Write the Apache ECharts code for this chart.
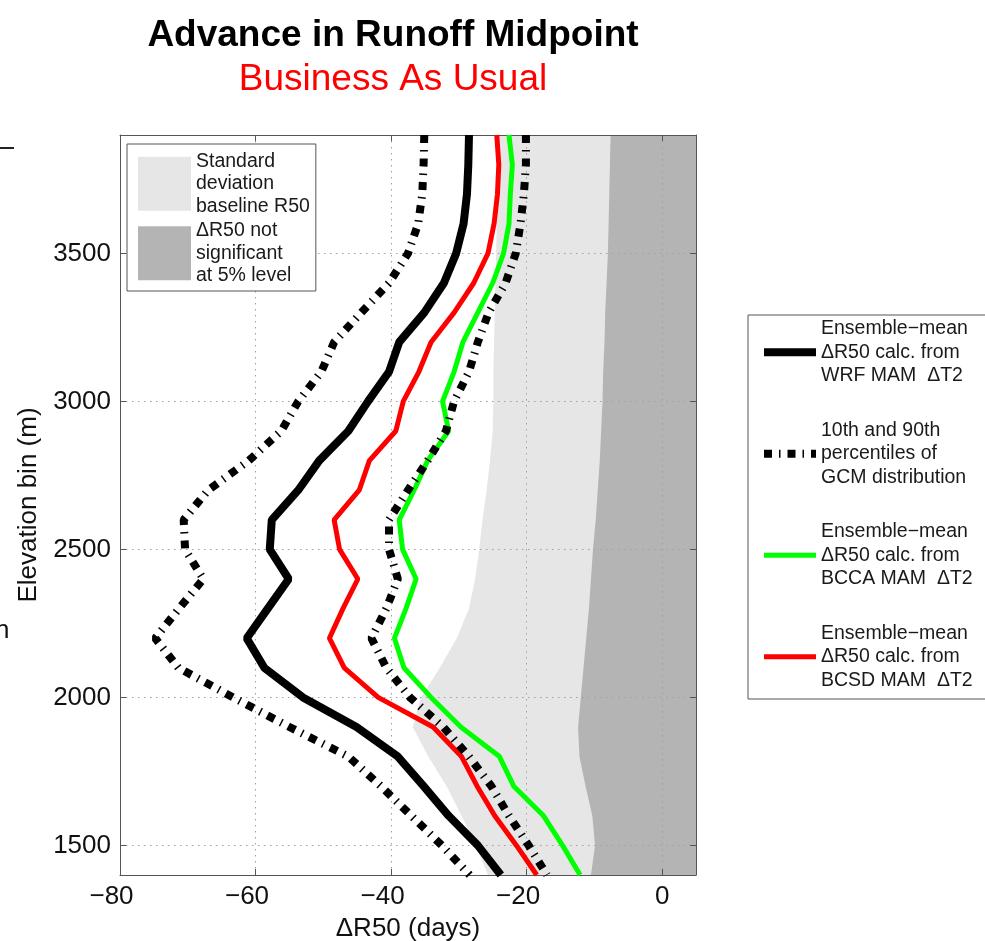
<!DOCTYPE html>
<html>
<head>
<meta charset="utf-8">
<script src="https://cdn.jsdelivr.net/npm/echarts@6/dist/echarts.min.js"></script>
<style>
  html, body { margin: 0; padding: 0; background: #fff; }
  #chart { width: 985px; height: 941px; }
</style>
</head>
<body>
<div id="chart"></div>
<script>
// Elevation bins (m), top to bottom
const elevation = [3900, 3800, 3700, 3600, 3500, 3400, 3300, 3200, 3100, 3000, 2900, 2800, 2700,
                   2600, 2500, 2400, 2300, 2200, 2100, 2000, 1900, 1800, 1700, 1600, 1500, 1400];

// Ensemble-mean ΔR50 (days) per elevation bin
const wrfMean  = [-28.5, -28.6, -28.8, -29.3, -30.4, -32.2, -35.1, -38.8, -40.3, -43.4, -46.3, -50.6, -53.7,
                  -57.6, -57.9, -55.1, -58.2, -61.3, -58.7, -53.0, -45.1, -39.0, -35.2, -31.5, -27.2, -23.8];
const bccaMean = [-22.6, -22.1, -22.4, -22.6, -23.4, -25.0, -27.2, -29.4, -30.7, -32.4, -31.5, -34.6, -36.6,
                  -38.8, -38.3, -36.3, -37.8, -39.5, -38.1, -34.1, -29.7, -24.0, -21.9, -17.5, -14.7, -12.1];
const bcsdMean = [-24.4, -24.1, -24.3, -24.8, -25.7, -27.8, -30.7, -34.1, -35.9, -38.2, -39.3, -43.2, -44.7,
                  -48.4, -47.6, -44.9, -47.1, -49.1, -46.9, -41.9, -33.8, -29.6, -27.3, -24.7, -21.5, -18.5];

// 10th and 90th percentiles of the GCM distribution
const gcmP10 = [-35.1, -35.2, -35.4, -36.0, -37.5, -40.3, -44.4, -48.4, -50.3, -53.7, -56.2, -61.0, -67.0,
                -70.6, -70.4, -67.7, -71.3, -74.8, -71.4, -63.3, -55.0, -46.3, -41.5, -37.0, -32.5, -28.4];
const gcmP90 = [-20.1, -20.1, -20.4, -20.9, -21.6, -23.1, -25.6, -27.2, -28.5, -30.7, -31.9, -34.6, -37.5,
                -40.3, -40.3, -39.0, -40.7, -42.9, -40.7, -37.2, -32.3, -28.5, -25.2, -22.6, -19.7, -17.0];

// Left edges of the shaded bands (days)
const sdEdge    = [-24.1, -24.2, -24.3, -24.4, -24.5, -24.6, -24.7, -24.8, -24.9, -24.9, -25.0, -25.4, -25.9,
                   -26.5, -27.0, -27.6, -28.5, -30.3, -32.8, -35.6, -36.8, -34.5, -31.8, -29.6, -27.5, -25.7];
const notSigEdge = [-7.6, -7.7, -7.8, -7.9, -8.0, -8.2, -8.4, -8.5, -8.7, -8.8, -9.0, -9.2, -9.5,
                    -9.8, -10.2, -10.5, -10.8, -11.2, -11.6, -12.0, -12.4, -12.2, -11.3, -10.3, -9.9, -10.5];

// Axis ticks
const xTicks = [-80, -60, -40, -20, 0];
const yTicks = [1500, 2000, 2500, 3000, 3500];

const X_MIN = -80, X_MAX = 5, Y_MIN = 1400, Y_MAX = 3900;
const FONT = '"Liberation Sans", Arial, Helvetica, sans-serif';

const NAME_SD    = 'Standard\ndeviation\nbaseline R50';
const NAME_NS    = '\u0394R50 not\nsignificant\nat 5% level';
const NAME_WRF   = 'Ensemble\u2212mean\n\u0394R50 calc. from\nWRF MAM  \u0394T2';
const NAME_PCT   = '10th and 90th\npercentiles of\nGCM distribution';
const NAME_BCCA  = 'Ensemble\u2212mean\n\u0394R50 calc. from\nBCCA MAM  \u0394T2';
const NAME_BCSD  = 'Ensemble\u2212mean\n\u0394R50 calc. from\nBCSD MAM  \u0394T2';

const LIGHT = '#e6e6e6', DARK = '#b4b4b4';
const DASH_DOT = [8, 7, 1.5, 7];

function pairs(xs) { return elevation.map((e, i) => [xs[i], e]); }

// Filled band from a boundary curve to the right edge of the plot
function bandSeries(name, edge, color) {
  return {
    type: 'custom',
    name: name,
    z: -1,
    silent: true,
    itemStyle: { color: color },
    encode: { x: 0, y: 1 },
    data: pairs(edge),
    renderItem: function (params, api) {
      if (params.dataIndex !== 0) return null;
      const pts = edge.map((x, i) => api.coord([x, elevation[i]]));
      pts.push(api.coord([X_MAX, elevation[elevation.length - 1]]));
      pts.push(api.coord([X_MAX, elevation[0]]));
      return { type: 'polygon', shape: { points: pts }, style: { fill: color } };
    }
  };
}

function lineSeries(name, values, color, width, type) {
  return {
    type: 'line',
    name: name,
    data: pairs(values),
    symbol: 'none',
    silent: true,
    z: 3,
    itemStyle: { color: color },
    lineStyle: { color: color, width: width, type: type || 'solid', cap: 'butt' }
  };
}

// Legend entry drawn as a bare line sample (no marker)
function lineKey(name, color, width, type) {
  return {
    name: name,
    itemStyle: { color: 'rgba(0,0,0,0)', borderWidth: 0, opacity: 0 },
    lineStyle: { color: color, width: width, type: type, cap: 'butt' }
  };
}

// Negative tick labels carry a true minus sign and sit slightly left of the tick
const xTickLabel = v => v < 0 ? '{neg|\u2212' + (-v) + '}' : String(v);
const axisGrey = '#555';
const gridLine = { show: true, lineStyle: { color: '#a0a0a0', width: 1, type: [1.5, 4.5] } };

const chart = echarts.init(document.getElementById('chart'), null, { renderer: 'canvas' });

chart.setOption({
  animation: false,
  backgroundColor: '#fff',
  textStyle: { fontFamily: FONT },
  title: {
    text: 'Advance in Runoff Midpoint',
    subtext: 'Business As Usual',
    left: 388,
    top: 12,
    textAlign: 'center',
    itemGap: 7,
    textStyle: { fontFamily: FONT, fontSize: 37, fontWeight: 'bold', color: '#000' },
    subtextStyle: { fontFamily: FONT, fontSize: 37, color: '#ff0000' }
  },
  grid: { left: 120, right: 289, top: 135, bottom: 66, containLabel: false, outerBoundsMode: 'none' },
  xAxis: [{
    type: 'value', min: X_MIN, max: X_MAX, interval: 20, position: 'bottom',
    axisLine: { show: true, onZero: false, lineStyle: { color: axisGrey, width: 1 } },
    axisTick: { show: true, inside: true, length: 6, customValues: xTicks, lineStyle: { color: axisGrey } },
    axisLabel: {
      customValues: xTicks, formatter: xTickLabel, fontSize: 26, color: '#111', margin: 9, fontFamily: FONT,
      rich: { neg: { fontSize: 26, color: '#111', fontFamily: FONT, padding: [0, 17, 0, 0] } }
    },
    splitLine: gridLine,
    name: '\u0394R50 (days)', nameLocation: 'middle', nameGap: 41,
    nameTextStyle: { fontSize: 26, color: '#111', fontFamily: FONT }
  }, {
    type: 'value', min: X_MIN, max: X_MAX, interval: 20, position: 'top',
    axisLine: { show: true, onZero: false, lineStyle: { color: axisGrey, width: 1 } },
    axisTick: { show: true, inside: true, length: 6, customValues: xTicks, lineStyle: { color: axisGrey } },
    axisLabel: { show: false },
    splitLine: { show: false }
  }],
  yAxis: [{
    type: 'value', min: Y_MIN, max: Y_MAX, position: 'left',
    axisLine: { show: true, onZero: false, lineStyle: { color: axisGrey, width: 1 } },
    axisTick: { show: true, inside: true, length: 6, customValues: yTicks, lineStyle: { color: axisGrey } },
    axisLabel: { customValues: yTicks, formatter: v => String(v), fontSize: 26, color: '#111', margin: 9, fontFamily: FONT },
    splitLine: gridLine,
    name: 'Elevation bin (m)', nameLocation: 'middle', nameGap: 64, nameRotate: 90,
    nameTextStyle: { fontSize: 26, color: '#111', fontFamily: FONT }
  }, {
    type: 'value', min: Y_MIN, max: Y_MAX, position: 'right',
    axisLine: { show: true, onZero: false, lineStyle: { color: axisGrey, width: 1 } },
    axisTick: { show: true, inside: true, length: 6, customValues: yTicks, lineStyle: { color: axisGrey } },
    axisLabel: { show: false },
    splitLine: { show: false }
  }],
  legend: [{
    // shaded-band key inside the plot
    data: [
      { name: NAME_SD, icon: 'rect', itemStyle: { color: LIGHT } },
      { name: NAME_NS, icon: 'rect', itemStyle: { color: DARK } }
    ],
    orient: 'vertical', left: 127, top: 144,
    itemWidth: 53, itemHeight: 54, itemGap: 2,
    padding: [6, 6, 4, 11],
    backgroundColor: '#fff', borderColor: axisGrey, borderWidth: 1, borderRadius: 0,
    selectedMode: false,
    textStyle: { fontFamily: FONT, fontSize: 19.5, lineHeight: 22.5, color: '#1a1a1a' }
  }, {
    // line key to the right of the plot
    data: [
      lineKey(NAME_WRF, '#000', 8, 'solid'),
      lineKey(NAME_PCT, '#000', 8, DASH_DOT),
      lineKey(NAME_BCCA, '#00ff00', 5, 'solid'),
      lineKey(NAME_BCSD, '#ff0000', 5, 'solid')
    ],
    orient: 'vertical', left: 748, top: 315,
    itemWidth: 52, itemHeight: 14, itemGap: 31,
    padding: [2, 14, 7, 12],
    backgroundColor: '#fff', borderColor: axisGrey, borderWidth: 1, borderRadius: 0,
    selectedMode: false,
    textStyle: { fontFamily: FONT, fontSize: 19.5, lineHeight: 23.5, color: '#1a1a1a' }
  }],
  series: [
    bandSeries(NAME_SD, sdEdge, LIGHT),
    bandSeries(NAME_NS, notSigEdge, DARK),
    lineSeries(NAME_WRF, wrfMean, '#000', 8),
    lineSeries(NAME_BCCA, bccaMean, '#00ff00', 5),
    lineSeries(NAME_BCSD, bcsdMean, '#ff0000', 5),
    lineSeries(NAME_PCT, gcmP10, '#000', 8, DASH_DOT),
    lineSeries(NAME_PCT, gcmP90, '#000', 8, DASH_DOT)
  ],
  graphic: [
    { type: 'line', shape: { x1: 0, y1: 148, x2: 14, y2: 148 }, style: { stroke: '#222', lineWidth: 2 }, silent: true },
    { type: 'text', x: -5, y: 618, style: { text: 'n', font: '26px ' + FONT, fill: '#111' }, silent: true }
  ]
});
</script>
</body>
</html>
